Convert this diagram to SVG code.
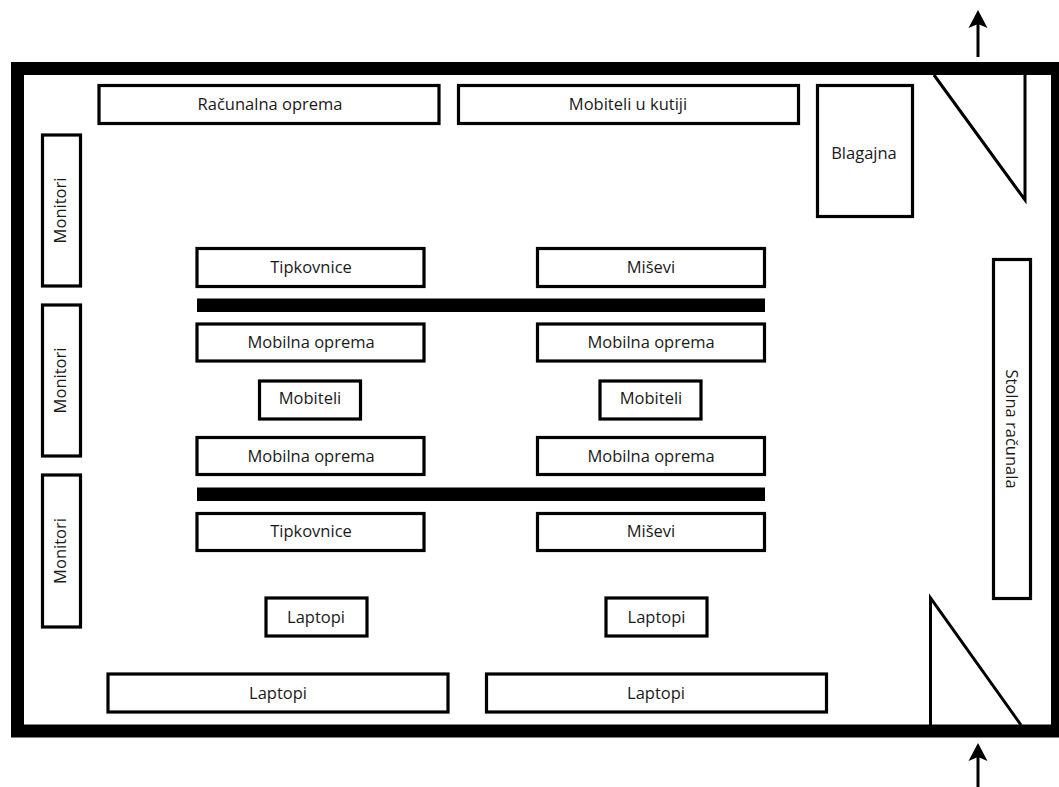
<svg xmlns="http://www.w3.org/2000/svg" width="1059" height="787" viewBox="0 0 1059 787">
<style>
.b{fill:#fff;stroke:#000;stroke-width:3.200}
.t{font-family:"Open Sans","Liberation Sans",sans-serif;font-size:16.500px;fill:#1a1a1a;text-anchor:middle}
.l{fill:none;stroke:#000;stroke-width:3}
.w{fill:none;stroke:#000;stroke-width:13}
.a{fill:none;stroke:#000;stroke-width:3}
</style>
<defs><marker id="h" viewBox="0 0 20 20" refX="4" refY="10" markerWidth="20" markerHeight="20" markerUnits="userSpaceOnUse" orient="auto"><path d="M0 0.500L18 10L0 19.500L4 10Z" fill="#000"/></marker></defs>
<rect width="1059" height="787" fill="#fff"/>
<g id="walls"><path class="w" d="M1065 68.500H17.500V731H1065"/><path class="w" d="M1057.500 68V731"/></g>
<g id="door-top"><path class="l" d="M934 75L1025 200V75"/></g>
<g id="door-bottom"><path class="l" d="M930.500 725V598L1021 725"/></g>
<g id="racunalna"><rect class="b" x="99" y="85.500" width="340" height="38"/><text class="t" x="270" y="110">Računalna oprema</text></g>
<g id="mobiteli-kutija"><rect class="b" x="458.500" y="85.500" width="340" height="38"/><text class="t" x="628" y="110">Mobiteli u kutiji</text></g>
<g id="blagajna"><rect class="b" x="817.500" y="85.500" width="95" height="131"/><text class="t" x="864" y="158.500">Blagajna</text></g>
<g id="monitori-1"><rect class="b" x="42.500" y="135" width="38" height="151"/><text class="t" transform="translate(65.500 210.500) rotate(-90)">Monitori</text></g>
<g id="monitori-2"><rect class="b" x="42.500" y="305" width="38" height="151"/><text class="t" transform="translate(65.500 380.500) rotate(-90)">Monitori</text></g>
<g id="monitori-3"><rect class="b" x="42.500" y="475" width="38" height="152"/><text class="t" transform="translate(65.500 551) rotate(-90)">Monitori</text></g>
<g id="stolna"><rect class="b" x="993.500" y="259.500" width="37" height="339"/><text class="t" transform="translate(1006 429) rotate(90)">Stolna računala</text></g>
<g id="tipkovnice-1"><rect class="b" x="197" y="248.500" width="227" height="38"/><text class="t" x="311" y="272.500">Tipkovnice</text></g>
<g id="misevi-1"><rect class="b" x="537.500" y="248.500" width="227" height="38"/><text class="t" x="651" y="272.500">Miševi</text></g>
<g id="polica-1"><rect x="197" y="298.500" width="568" height="13.500" fill="#000"/></g>
<g id="oprema-1"><rect class="b" x="197" y="324" width="227" height="37"/><text class="t" x="311" y="348">Mobilna oprema</text></g>
<g id="oprema-2"><rect class="b" x="537.500" y="324" width="227" height="37"/><text class="t" x="651" y="348">Mobilna oprema</text></g>
<g id="mobiteli-1"><rect class="b" x="259.500" y="381" width="101" height="38"/><text class="t" x="310" y="404">Mobiteli</text></g>
<g id="mobiteli-2"><rect class="b" x="600" y="381" width="101" height="38"/><text class="t" x="651" y="404">Mobiteli</text></g>
<g id="oprema-3"><rect class="b" x="197" y="437.500" width="227" height="37"/><text class="t" x="311" y="461.500">Mobilna oprema</text></g>
<g id="oprema-4"><rect class="b" x="537.500" y="437.500" width="227" height="37"/><text class="t" x="651" y="461.500">Mobilna oprema</text></g>
<g id="polica-2"><rect x="197" y="487.500" width="568" height="13.500" fill="#000"/></g>
<g id="tipkovnice-2"><rect class="b" x="197" y="513.500" width="227" height="37"/><text class="t" x="311" y="537">Tipkovnice</text></g>
<g id="misevi-2"><rect class="b" x="537.500" y="513.500" width="227" height="37"/><text class="t" x="651" y="537">Miševi</text></g>
<g id="laptopi-1"><rect class="b" x="266" y="598" width="101" height="38"/><text class="t" x="316" y="622.500">Laptopi</text></g>
<g id="laptopi-2"><rect class="b" x="606" y="598" width="101" height="38"/><text class="t" x="656.500" y="622.500">Laptopi</text></g>
<g id="laptopi-3"><rect class="b" x="108" y="674" width="340" height="38"/><text class="t" x="278" y="698.500">Laptopi</text></g>
<g id="laptopi-4"><rect class="b" x="486.500" y="674" width="340" height="38"/><text class="t" x="656" y="698.500">Laptopi</text></g>
<g id="connectors"><path class="a" d="M978 57V24" marker-end="url(#h)"/><path class="a" d="M978 787V757" marker-end="url(#h)"/></g>
</svg>
